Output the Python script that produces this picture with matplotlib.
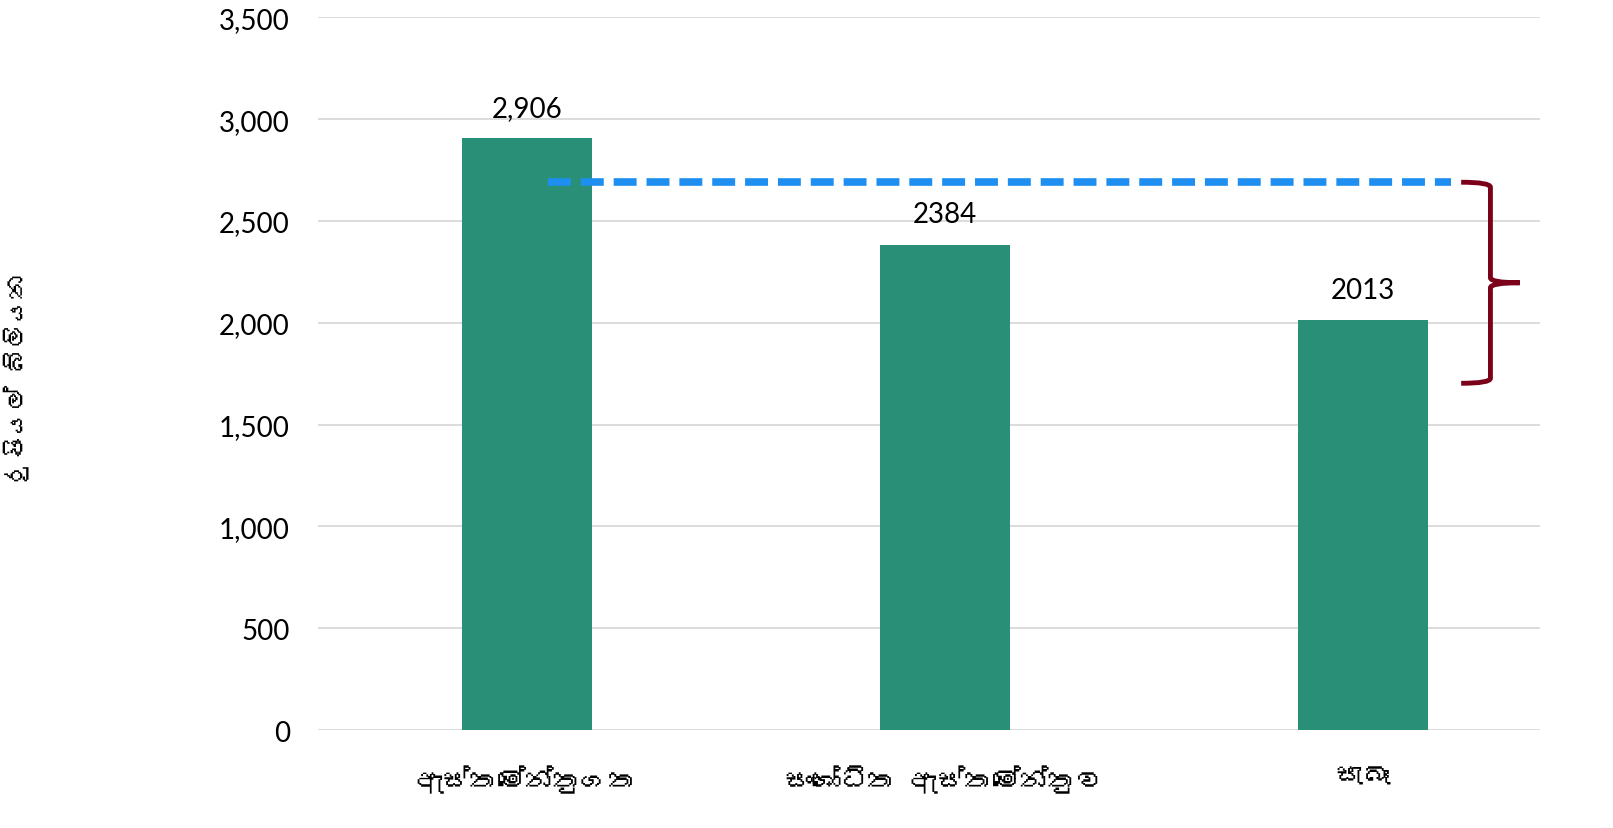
import matplotlib
matplotlib.use("Agg")
import matplotlib.pyplot as plt
from matplotlib import font_manager
from matplotlib.ft2font import FT2Font
from matplotlib.path import Path
from matplotlib.patches import PathPatch

# find any installed font that has Sinhala glyphs
sinhala_font = None
for f in font_manager.fontManager.ttflist:
    try:
        ft = FT2Font(f.fname)
        if ft.get_char_index(0x0DBD) and ft.get_char_index(0x0D85):
            sinhala_font = f.name
            break
    except Exception:
        pass
families = [sinhala_font, "DejaVu Sans"] if sinhala_font else ["DejaVu Sans"]
num_font = "Lato"

categories = ["ඇස්තමේන්තුගත", "සංශෝධිත ඇස්තමේන්තුව", "සැබෑ"]
values = [2906, 2384, 2013]
value_labels = ["2,906", "2384", "2013"]
y_label = "රුපියල් බිලියන"
y_ticks = [0, 500, 1000, 1500, 2000, 2500, 3000, 3500]
dash_level = 2690
brace_top = 2690
brace_bottom = 1703

fig = plt.figure(figsize=(16.13, 8.29), dpi=100)
ax = fig.add_axes([0.197, 0.118, 0.7576, 0.860])

x = list(range(len(categories)))
ax.bar(x, values, width=0.31, color="#2A8F77", zorder=3)
for xi, v, lab in zip(x, values, value_labels):
    ax.text(xi, v + 85, lab, ha="center", va="bottom", fontsize=20,
            family=num_font)

ax.set_xlim(-0.5, 2.423)
ax.set_ylim(0, 3500)
ax.set_yticks(y_ticks)
ax.set_yticklabels([f"{t:,}" for t in y_ticks], fontsize=20, family=num_font)
ax.set_xticks(x)
ax.set_xticklabels(categories, fontsize=20, family=families)
ax.tick_params(axis="x", length=0, pad=25)
ax.tick_params(axis="y", length=0, pad=20)
ax.grid(axis="y", color="#d9d9d9", linewidth=1.3, zorder=0)
for s in ax.spines.values():
    s.set_visible(False)
ax.set_ylabel(y_label, fontsize=18, family=families)
ax.yaxis.set_label_coords(-0.236, 0.495)

# dashed reference line
ax.plot([0.05, 2.21], [dash_level, dash_level], color="#1E8FF0", lw=5.5,
        dashes=(3.0, 1.3), zorder=4)

# curly brace on the right
bx0, bx1, bxt = 2.235, 2.305, 2.375
ymid = (brace_top + brace_bottom) / 2
c = 25
verts = [(bx0, brace_top), (bx1, brace_top), (bx1, brace_top - c), (bx1, brace_top - 2 * c),
         (bx1, ymid + c), (bx1, ymid), (bxt, ymid),
         (bx1, ymid), (bx1, ymid - c),
         (bx1, brace_bottom + 2 * c), (bx1, brace_bottom + c), (bx1, brace_bottom), (bx0, brace_bottom)]
codes = [Path.MOVETO, Path.CURVE3, Path.CURVE3, Path.LINETO,
         Path.LINETO, Path.CURVE3, Path.CURVE3,
         Path.CURVE3, Path.CURVE3,
         Path.LINETO, Path.LINETO, Path.CURVE3, Path.CURVE3]
ax.add_patch(PathPatch(Path(verts, codes), fill=False, edgecolor="#7B0019",
                       lw=3.5, zorder=4, clip_on=False))

fig.savefig("out.png", dpi=100)
